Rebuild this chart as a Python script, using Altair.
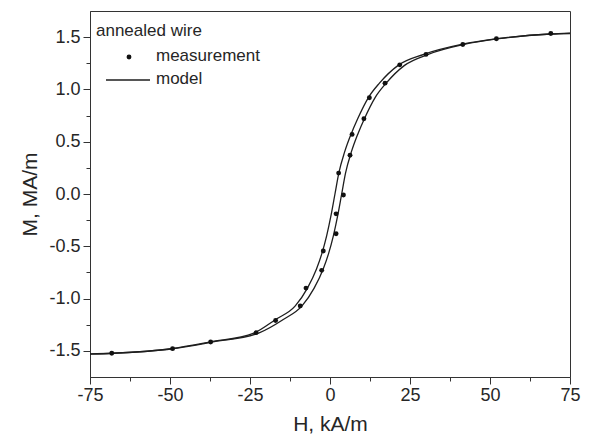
import altair as alt
import pandas as pd

# model curve, descending branch (left line)
desc_H = [-75, -68.15, -49.75, -37.45, -23.8, -17.0, -10.85, -7.05, -4.25, -2.55,
          -1.05, 0.35, 1.55, 2.75, 4.55, 6.55, 8.65, 11.95, 15.45, 21.3,
          29.3, 41.1, 52.25, 68.85, 75]
desc_M = [-1.528, -1.523, -1.48, -1.415, -1.33, -1.2, -1.07, -0.9, -0.72, -0.57,
          -0.4, -0.2, 0.0, 0.2, 0.4, 0.57, 0.72, 0.92, 1.06, 1.23,
          1.335, 1.43, 1.485, 1.53, 1.538]

# model curve, ascending branch (right line)
asc_H = [-75, -67.85, -49.25, -36.55, -22.3, -14.6, -8.75, -4.95, -2.15, -0.45,
         1.05, 2.45, 3.65, 4.85, 6.65, 8.65, 10.75, 14.05, 17.55, 23.3,
         30.7, 41.9, 52.75, 69.15, 75]
asc_M = [-1.531, -1.523, -1.48, -1.415, -1.33, -1.2, -1.07, -0.9, -0.72, -0.57,
         -0.4, -0.2, 0.0, 0.2, 0.4, 0.57, 0.72, 0.92, 1.06, 1.23,
         1.335, 1.43, 1.485, 1.53, 1.535]

# measured points
meas_H = [69, 52, 41.5, 30, 21.8, 17.2, 12.3, 10.6, 6.9, 6.25, 2.7, 4.2, 1.9,
          1.9, -2.1, -2.6, -7.5, -9.3, -17.0, -23.1, -37.3, -49.2, -68.2]
meas_M = [1.535, 1.485, 1.43, 1.335, 1.235, 1.06, 0.92, 0.72, 0.57, 0.37, 0.20, -0.01, -0.19,
          -0.38, -0.545, -0.73, -0.90, -1.07, -1.21, -1.326, -1.415, -1.479, -1.523]

x_ticks = [-75, -62.5, -50, -37.5, -25, -12.5, 0, 12.5, 25, 37.5, 50, 62.5, 75]
y_ticks = [-1.5, -1.25, -1.0, -0.75, -0.5, -0.25, 0.0, 0.25, 0.5, 0.75, 1.0, 1.25, 1.5]

legend_title = "annealed wire"
legend_labels = ["measurement", "model"]

FONT = "Liberation Sans"
INK = "#1e1e1e"
TXT = "#262626"

desc = pd.DataFrame({"H": desc_H, "M": desc_M})
asc = pd.DataFrame({"H": asc_H, "M": asc_M})
meas = pd.DataFrame({"H": meas_H, "M": meas_M})

x_major = "datum.value % 25 === 0"
y_major = "abs(datum.value * 2 - round(datum.value * 2)) < 0.001"

x_axis = alt.Axis(
    values=x_ticks, title="H, kA/m", grid=False, labelFlush=False,
    labelExpr=f"{x_major} ? (datum.value < 0 ? '-' : '') + format(abs(datum.value), 'd') : ''",
    tickSize={"condition": {"test": x_major, "value": 7}, "value": 4},
    labelPadding=2, titlePadding=9, labelOverlap=False,
)
y_axis = alt.Axis(
    values=y_ticks, title="M, MA/m", grid=False, labelFlush=False,
    labelExpr=f"{y_major} ? (datum.value < 0 ? '-' : '') + format(abs(datum.value), '.1f') : ''",
    tickSize={"condition": {"test": y_major, "value": 7}, "value": 4},
    labelPadding=3, titlePadding=8, labelOverlap=False,
)

X = alt.X("H:Q", scale=alt.Scale(domain=[-75, 75], nice=False, zero=False), axis=x_axis)
Y = alt.Y("M:Q", scale=alt.Scale(domain=[-1.75, 1.75], nice=False, zero=False), axis=y_axis)

line_desc = alt.Chart(desc).mark_line(color=INK, strokeWidth=1.3, interpolate="monotone").encode(x=X, y=Y)
line_asc = alt.Chart(asc).mark_line(color=INK, strokeWidth=1.3, interpolate="monotone").encode(x=X, y=Y)
points = alt.Chart(meas).mark_circle(color="#111111", size=24, opacity=1).encode(x=X, y=Y)

# legend (drawn inside the plot, top-left)
def leg_text(label, px, py):
    return alt.Chart(pd.DataFrame({"t": [label]})).mark_text(
        align="left", baseline="middle", font=FONT, fontSize=17, color=TXT
    ).encode(text="t:N", x=alt.value(px), y=alt.value(py))

leg_title = leg_text(legend_title, 6, 20)
leg_meas = leg_text(legend_labels[0], 66, 45)
leg_model = leg_text(legend_labels[1], 66, 68)
leg_dot = alt.Chart(pd.DataFrame({"t": [legend_labels[0]]})).mark_circle(
    color="#111111", size=24, opacity=1
).encode(x=alt.value(39), y=alt.value(46))
leg_line = alt.Chart(pd.DataFrame({"t": [legend_labels[1]]})).mark_rule(
    color=INK, strokeWidth=1.3
).encode(x=alt.value(16), x2=alt.value(60), y=alt.value(69))

chart = alt.layer(
    line_desc, line_asc, points, leg_title, leg_meas, leg_model, leg_dot, leg_line
).properties(
    width=480, height=366,
    autosize=alt.AutoSizeParams(type="none"),
    padding={"left": 82, "top": 3, "right": 20, "bottom": 58},
).configure_view(
    stroke="#333333", strokeWidth=1
).configure_axis(
    domainColor="#333333", tickColor="#333333", domainWidth=1, tickWidth=1,
    labelFont=FONT, labelFontSize=18, labelColor=TXT,
    titleFont=FONT, titleFontSize=21, titleFontWeight="normal", titleColor=TXT,
)

chart.save("out.html", embed_options={"renderer": "svg", "actions": False})
